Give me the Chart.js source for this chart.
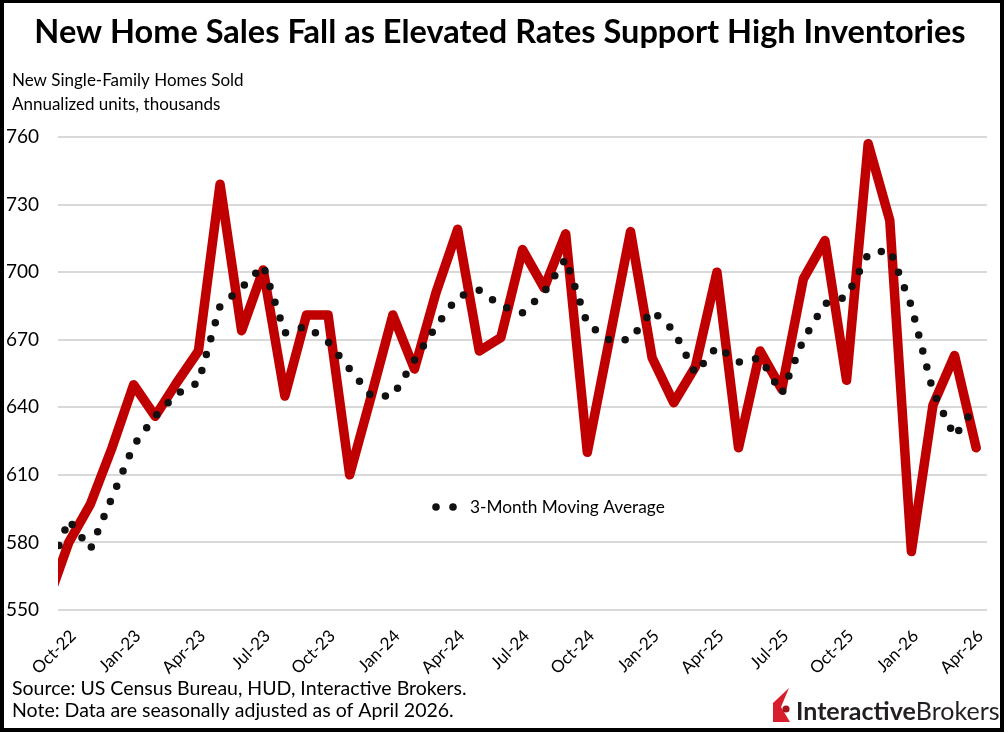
<!DOCTYPE html>
<html>
<head>
<meta charset="utf-8">
<script src="https://cdn.jsdelivr.net/npm/chart.js@4.4.1/dist/chart.umd.min.js"></script>
<style>
  html, body { margin: 0; padding: 0; background: #fff; }
  #wrap { width: 1008px; height: 733px; position: relative; }
</style>
</head>
<body>
<div id="wrap"><canvas id="chart" width="1008" height="733"></canvas></div>
<script>
// monthly data, Sep-22 .. Apr-26 (Sep-22 sits just left of the axis and gets clipped)
const months = ['Sep-22','Oct-22','Nov-22','Dec-22','Jan-23','Feb-23','Mar-23','Apr-23','May-23','Jun-23','Jul-23','Aug-23',
  'Sep-23','Oct-23','Nov-23','Dec-23','Jan-24','Feb-24','Mar-24','Apr-24','May-24','Jun-24','Jul-24','Aug-24',
  'Sep-24','Oct-24','Nov-24','Dec-24','Jan-25','Feb-25','Mar-25','Apr-25','May-25','Jun-25','Jul-25','Aug-25',
  'Sep-25','Oct-25','Nov-25','Dec-25','Jan-26','Feb-26','Mar-26','Apr-26'];

const homesSold = [553, 580, 597, 622, 650, 636, 651, 665, 739, 674, 701, 645,
  681, 681, 610, 645, 681, 657, 691, 719, 665, 671, 710, 693,
  717, 620, 669, 718, 662, 642, 658, 700, 622, 665, 648, 697,
  714, 652, 757, 723, 576, 641, 663, 622];

const movingAvg3m = [565, 590, 577, 600, 623, 636, 646, 651, 685, 693, 703, 673,
  676, 669, 657, 645, 645, 661, 676, 689, 692, 685, 682, 691,
  706, 677, 670, 670, 683, 674, 655, 667, 660, 662, 646, 670,
  686, 689, 708, 710, 685, 647, 627, 641];

const tickLabels = ['Oct-22','Jan-23','Apr-23','Jul-23','Oct-23','Jan-24','Apr-24','Jul-24',
  'Oct-24','Jan-25','Apr-25','Jul-25','Oct-25','Jan-26','Apr-26'];

const yTicks = [550, 580, 610, 640, 670, 700, 730, 760];

// month start offset from Oct-22; points sit mid-month
const monthStart = (label) => months.indexOf(label) - 1;
const toPoints = (vals) => vals.map((v, i) => ({ x: monthStart(months[i]) + 0.5, y: v }));

const FONT = 'Lato, "Open Sans", sans-serif';

const decor = {
  id: 'decor',
  afterDraw(chart) {
    const ctx = chart.ctx;
    ctx.save();
    ctx.fillStyle = '#000';
    ctx.textBaseline = 'middle';

    // title
    ctx.font = 'bold 32.5px ' + FONT;
    ctx.textAlign = 'center';
    ctx.fillText('New Home Sales Fall as Elevated Rates Support High Inventories', 500, 33);

    // subtitle
    ctx.textAlign = 'left';
    ctx.font = '17px ' + FONT;
    ctx.fillText('New Single-Family Homes Sold', 12, 81);
    ctx.fillText('Annualized units, thousands', 12, 105);

    // legend for the moving average
    ctx.fillStyle = '#111';
    [436, 453].forEach(x => { ctx.beginPath(); ctx.arc(x, 507, 3.8, 0, Math.PI * 2); ctx.fill(); });
    ctx.fillStyle = '#000';
    ctx.font = '17.3px ' + FONT;
    ctx.fillText('3-Month Moving Average', 470, 507);

    // footer
    ctx.font = '19.5px ' + FONT;
    ctx.fillText('Source: US Census Bureau, HUD, Interactive Brokers.', 12, 689);
    ctx.fillText('Note: Data are seasonally adjusted as of April 2026.', 12, 711);

    // logo
    ctx.fillStyle = '#d81e2c';
    ctx.beginPath();
    ctx.moveTo(773, 722); ctx.lineTo(773, 703); ctx.lineTo(789, 688); ctx.lineTo(781, 707); ctx.lineTo(790, 722);
    ctx.closePath(); ctx.fill();
    ctx.fillStyle = '#a3141f';
    ctx.beginPath(); ctx.arc(786, 709, 3.6, 0, Math.PI * 2); ctx.fill();
    ctx.fillStyle = '#231f20';
    ctx.font = 'bold 25px ' + FONT;
    ctx.fillText('Interactive', 796, 712);
    const w = ctx.measureText('Interactive').width;
    ctx.font = '25px ' + FONT;
    ctx.fillText('Brokers', 796 + w, 712);

    // frame
    ctx.fillStyle = '#000';
    ctx.fillRect(0, 0, 1004, 3);
    ctx.fillRect(0, 0, 4, 732);
    ctx.fillRect(1000, 0, 4, 732);
    ctx.fillRect(0, 728, 1004, 4);
    ctx.restore();
  }
};

new Chart(document.getElementById('chart'), {
  type: 'line',
  data: {
    datasets: [
      {
        label: '3-Month Moving Average',
        data: toPoints(movingAvg3m),
        borderColor: '#111',
        borderWidth: 7.5,
        borderDash: [0, 16.5],
        borderCapStyle: 'round',
        pointRadius: 0,
        tension: 0,
        clip: 0
      },
      {
        label: 'New Single-Family Homes Sold',
        data: toPoints(homesSold),
        borderColor: '#c00000',
        borderWidth: 9.5,
        borderCapStyle: 'round',
        borderJoinStyle: 'round',
        pointRadius: 0,
        tension: 0,
        clip: 0
      }
    ]
  },
  options: {
    responsive: false,
    animation: false,
    devicePixelRatio: 1,
    layout: { padding: { top: 137, right: 21, bottom: 0, left: 0 } },
    plugins: { legend: { display: false }, tooltip: { enabled: false }, title: { display: false } },
    scales: {
      x: {
        type: 'linear',
        min: 0,
        max: monthStart('Apr-26') + 1,
        afterFit: (s) => { s.height = 123; },
        afterBuildTicks: (s) => { s.ticks = tickLabels.map(l => ({ value: monthStart(l) })); },
        grid: { display: false },
        border: { display: false },
        ticks: {
          autoSkip: false,
          maxRotation: 45,
          minRotation: 45,
          padding: 8,
          labelOffset: 15,
          color: '#000',
          font: { family: FONT, size: 17 },
          callback: (v) => months[v + 1]
        }
      },
      y: {
        min: 550,
        max: 760,
        afterFit: (s) => { s.width = 58; },
        afterBuildTicks: (s) => { s.ticks = yTicks.map(v => ({ value: v })); },
        grid: { color: '#d9d9d9', lineWidth: 2, drawTicks: false },
        border: { display: false },
        ticks: { padding: 19, color: '#000', font: { family: FONT, size: 19 } }
      }
    }
  },
  plugins: [decor]
});
</script>
</body>
</html>
